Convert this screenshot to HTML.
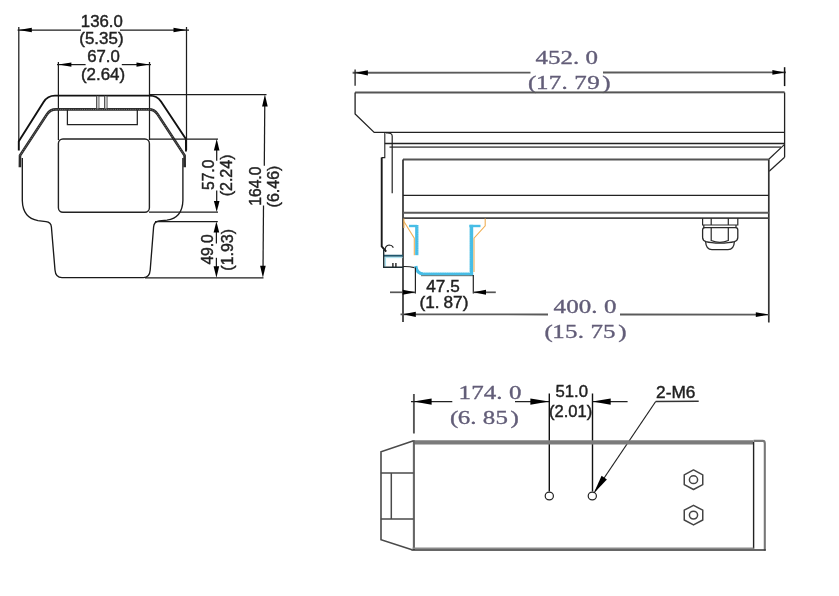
<!DOCTYPE html>
<html><head><meta charset="utf-8"><title>Housing dimensions</title>
<style>
html,body{margin:0;padding:0;background:#fff;}
body{width:839px;height:596px;overflow:hidden;font-family:"Liberation Sans",sans-serif;}
svg{display:block;filter:contrast(1);}
svg text{font-family:"Liberation Sans",sans-serif;}
svg text.sf{font-family:"Liberation Serif",serif;}
</style></head><body>
<svg width="839" height="596" viewBox="0 0 839 596">
<rect x="0" y="0" width="839" height="596" fill="#fff"/>
<line x1="17.6" y1="30" x2="81" y2="30" stroke="#1c1c1c" stroke-width="1.25" />
<line x1="120" y1="30" x2="189" y2="30" stroke="#1c1c1c" stroke-width="1.25" />
<line x1="18.8" y1="27" x2="18.8" y2="142" stroke="#1c1c1c" stroke-width="1.25" />
<line x1="186.5" y1="27" x2="186.5" y2="150" stroke="#1c1c1c" stroke-width="1.25" />
<polygon points="18.80,30.00 31.80,27.80 31.80,32.20" fill="#000"/>
<polygon points="186.50,30.00 173.50,32.20 173.50,27.80" fill="#000"/>
<text transform="translate(101.8,26.6) scale(1.03,1)" font-size="16.3" text-anchor="middle" fill="#222" stroke="#222" stroke-width="0.42">136.0</text>
<text transform="translate(101.4,43.6) scale(1.04,1)" font-size="16.3" text-anchor="middle" fill="#222" stroke="#222" stroke-width="0.42">(5.35)</text>
<line x1="57" y1="64.6" x2="85.6" y2="64.6" stroke="#1c1c1c" stroke-width="1.25" />
<line x1="121.8" y1="64.6" x2="151" y2="64.6" stroke="#1c1c1c" stroke-width="1.25" />
<line x1="58.4" y1="62" x2="58.4" y2="140" stroke="#1c1c1c" stroke-width="1.25" />
<line x1="149.5" y1="62" x2="149.5" y2="140" stroke="#1c1c1c" stroke-width="1.25" />
<polygon points="58.40,64.60 71.40,62.40 71.40,66.80" fill="#000"/>
<polygon points="149.50,64.60 136.50,66.80 136.50,62.40" fill="#000"/>
<text transform="translate(103.5,61.7) scale(1.03,1)" font-size="16.3" text-anchor="middle" fill="#222" stroke="#222" stroke-width="0.42">67.0</text>
<text transform="translate(103,80) scale(1.04,1)" font-size="16.3" text-anchor="middle" fill="#222" stroke="#222" stroke-width="0.42">(2.64)</text>
<path d="M18.8,150.5 L18.8,141.3 L43.6,102 Q47.6,95.6 55,95.6 L149.6,95.6 Q157,95.6 161,101.5 L185.9,139 L186,151.5" stroke="#111" stroke-width="1.9" fill="none" stroke-linejoin="round"/>
<path d="M19.9,167.3 L20,155.5 L47,114.3 Q50.2,109.4 56,109.4 L148.6,109.4 Q154.4,109.4 157.6,114.3 L184.6,155.5 L184.7,167.3" stroke="#2b2b2b" stroke-width="2.6" fill="none" stroke-linejoin="round"/>
<path d="M20,155.5 L47,114.3 Q50.2,109.4 56,109.4 L148.6,109.4 Q154.4,109.4 157.6,114.3 L184.6,155.5" stroke="#9a9a9a" stroke-width="0.7" fill="none" stroke-dasharray="1 1.2"/>
<line x1="96.6" y1="95.6" x2="96.6" y2="109.4" stroke="#444" stroke-width="1.0" />
<line x1="98.9" y1="95.6" x2="98.9" y2="109.4" stroke="#444" stroke-width="1.0" />
<line x1="104.6" y1="95.6" x2="104.6" y2="109.4" stroke="#444" stroke-width="1.0" />
<line x1="107.0" y1="95.6" x2="107.0" y2="109.4" stroke="#444" stroke-width="1.0" />
<line x1="97.75" y1="96.5" x2="97.75" y2="108.5" stroke="#bbb" stroke-width="1.3" />
<line x1="105.8" y1="96.5" x2="105.8" y2="108.5" stroke="#bbb" stroke-width="1.3" />
<path d="M67.4,109.4 L67.4,124.6 L137.3,124.6 L137.3,109.4" stroke="#222" stroke-width="1.25" fill="none" />
<rect x="58.4" y="139" width="91" height="73.2" rx="4.5" ry="4.5" fill="none" stroke="#222" stroke-width="1.4"/>
<path d="M22.3,158 L22.3,200.5 C22.6,211.5 27.5,218.8 38,220.6 L46,221.7 Q51,222.3 51.4,227 L55,270 Q55.6,277.6 62,277.6 L143.5,277.6 Q149.6,277.6 150.2,270 L153.6,227 Q154,221.6 159,221 L167,220.2 C177.6,218.6 182.6,211.5 182.9,200.5 L182.9,158" stroke="#1a1a1a" stroke-width="1.35" fill="none" />
<line x1="150" y1="94.6" x2="266.5" y2="94.6" stroke="#1c1c1c" stroke-width="1.25" />
<line x1="149.5" y1="139" x2="218" y2="139" stroke="#1c1c1c" stroke-width="1.25" />
<line x1="149" y1="212" x2="218" y2="212" stroke="#1c1c1c" stroke-width="1.25" />
<line x1="155" y1="221.6" x2="217.8" y2="221.6" stroke="#1c1c1c" stroke-width="1.25" />
<line x1="145" y1="277.8" x2="263.5" y2="277.8" stroke="#1c1c1c" stroke-width="1.25" />
<line x1="264.8" y1="100" x2="264.3" y2="165.7" stroke="#1c1c1c" stroke-width="1.25" />
<line x1="263.5" y1="205.6" x2="263" y2="272" stroke="#1c1c1c" stroke-width="1.25" />
<polygon points="264.90,94.60 267.70,106.60 262.10,106.60" fill="#000"/>
<polygon points="262.90,277.80 260.10,265.80 265.70,265.80" fill="#000"/>
<text transform="translate(261.2,186.2) rotate(-90) scale(1,1.04)" font-size="15.6" text-anchor="middle" fill="#222" stroke="#222" stroke-width="0.42">164.0</text>
<text transform="translate(278.8,186.5) rotate(-90) scale(1,1.01)" font-size="16" text-anchor="middle" fill="#222" stroke="#222" stroke-width="0.42">(6.46)</text>
<line x1="216.7" y1="145" x2="216.7" y2="160.7" stroke="#1c1c1c" stroke-width="1.25" />
<line x1="216.7" y1="190.6" x2="216.7" y2="206" stroke="#1c1c1c" stroke-width="1.25" />
<polygon points="216.70,139.00 219.50,150.50 213.90,150.50" fill="#000"/>
<polygon points="216.70,212.00 213.90,201.00 219.50,201.00" fill="#000"/>
<text transform="translate(213.6,174.8) rotate(-90) scale(1,1.04)" font-size="15.6" text-anchor="middle" fill="#222" stroke="#222" stroke-width="0.42">57.0</text>
<text transform="translate(231.8,175.4) rotate(-90) scale(1,1.01)" font-size="16" text-anchor="middle" fill="#222" stroke="#222" stroke-width="0.42">(2.24)</text>
<line x1="216.4" y1="227" x2="216.4" y2="243.5" stroke="#1c1c1c" stroke-width="1.25" />
<line x1="216.4" y1="257.8" x2="216.4" y2="272" stroke="#1c1c1c" stroke-width="1.25" />
<polygon points="216.40,221.60 219.20,232.60 213.60,232.60" fill="#000"/>
<polygon points="216.40,277.80 213.60,266.30 219.20,266.30" fill="#000"/>
<text transform="translate(213,249.4) rotate(-90) scale(1,1.04)" font-size="15.6" text-anchor="middle" fill="#222" stroke="#222" stroke-width="0.42">49.0</text>
<text transform="translate(232.6,249.8) rotate(-90) scale(1,1.01)" font-size="16" text-anchor="middle" fill="#222" stroke="#222" stroke-width="0.42">(1.93)</text>
<line x1="352.6" y1="72.8" x2="530.5" y2="72.6" stroke="#5a5a5a" stroke-width="1.9" />
<line x1="603" y1="72.5" x2="786" y2="72.4" stroke="#5a5a5a" stroke-width="1.9" />
<line x1="355.1" y1="69.4" x2="355.1" y2="85.7" stroke="#222" stroke-width="1.3" />
<line x1="784.6" y1="67.2" x2="784.6" y2="86.1" stroke="#111" stroke-width="1.5" />
<polygon points="355.10,72.80 367.90,70.20 367.90,75.40" fill="#000"/>
<polygon points="784.60,72.40 772.40,74.80 772.40,70.00" fill="#000"/>
<text transform="translate(541.75,64.3) scale(1.28,1)" class="sf" font-size="19.5" text-anchor="middle" fill="#625d78" stroke="#625d78" stroke-width="0.35">4</text>
<text transform="translate(554.25,64.3) scale(1.28,1)" class="sf" font-size="19.5" text-anchor="middle" fill="#625d78" stroke="#625d78" stroke-width="0.35">5</text>
<text transform="translate(566.75,64.3) scale(1.28,1)" class="sf" font-size="19.5" text-anchor="middle" fill="#625d78" stroke="#625d78" stroke-width="0.35">2</text>
<text transform="translate(576.12,64.3) scale(1.28,1)" class="sf" font-size="19.5" text-anchor="middle" fill="#625d78" stroke="#625d78" stroke-width="0.35">.</text>
<text transform="translate(591.75,64.3) scale(1.28,1)" class="sf" font-size="19.5" text-anchor="middle" fill="#625d78" stroke="#625d78" stroke-width="0.35">0</text>
<text transform="translate(532.22,89.3) scale(1.28,1)" class="sf" font-size="19.5" text-anchor="middle" fill="#625d78" stroke="#625d78" stroke-width="0.35">(</text>
<text transform="translate(542.20,89.3) scale(1.28,1)" class="sf" font-size="19.5" text-anchor="middle" fill="#625d78" stroke="#625d78" stroke-width="0.35">1</text>
<text transform="translate(555.00,89.3) scale(1.28,1)" class="sf" font-size="19.5" text-anchor="middle" fill="#625d78" stroke="#625d78" stroke-width="0.35">7</text>
<text transform="translate(564.60,89.3) scale(1.28,1)" class="sf" font-size="19.5" text-anchor="middle" fill="#625d78" stroke="#625d78" stroke-width="0.35">.</text>
<text transform="translate(580.60,89.3) scale(1.28,1)" class="sf" font-size="19.5" text-anchor="middle" fill="#625d78" stroke="#625d78" stroke-width="0.35">7</text>
<text transform="translate(593.40,89.3) scale(1.28,1)" class="sf" font-size="19.5" text-anchor="middle" fill="#625d78" stroke="#625d78" stroke-width="0.35">9</text>
<text transform="translate(606.46,89.3) scale(1.28,1)" class="sf" font-size="19.5" text-anchor="middle" fill="#625d78" stroke="#625d78" stroke-width="0.35">)</text>
<line x1="355.1" y1="92.5" x2="784.6" y2="92.3" stroke="#555" stroke-width="2.0" />
<path d="M784.6,92.4 L784.6,157.2 M355.1,92.4 L355.1,113.9 L374.2,132.4 L784.6,132.4" stroke="#222" stroke-width="1.3" fill="none" />
<line x1="384.8" y1="143.5" x2="784.6" y2="143.5" stroke="#222" stroke-width="1.3" />
<line x1="389.5" y1="147.1" x2="781" y2="147.1" stroke="#666" stroke-width="1.8" />
<line x1="768.8" y1="159.3" x2="784.6" y2="144.4" stroke="#222" stroke-width="1.2" />
<line x1="769.2" y1="171.2" x2="784.6" y2="157.2" stroke="#222" stroke-width="1.2" />
<line x1="403" y1="159.6" x2="768.8" y2="159.4" stroke="#555" stroke-width="2.0" />
<path d="M403,322 L403,159.5 M768.8,159.5 L768.8,322.4" stroke="#333" stroke-width="1.7" fill="none" />
<line x1="403" y1="195.3" x2="768.8" y2="195.3" stroke="#222" stroke-width="1.3" />
<line x1="403" y1="212.8" x2="768.8" y2="212.8" stroke="#5a5a5a" stroke-width="1.9" />
<line x1="403" y1="218.2" x2="768.8" y2="218.2" stroke="#444" stroke-width="1.8" />
<path d="M384.8,132.4 L384.8,157.6 L381.6,157.6" stroke="#222" stroke-width="1.1" fill="none" />
<path d="M386,132.9 Q392.2,132.4 392.2,136 L392.2,193.2" stroke="#222" stroke-width="1.2" fill="none" />
<path d="M381.7,157.6 L381.7,246.4 L386.2,251.7" stroke="#1a1a1a" stroke-width="1.9" fill="none" />
<path d="M385,251 Q385,245.2 389.2,245 Q392,245 393.4,247.6" stroke="#222" stroke-width="1.2" fill="none" />
<line x1="384.6" y1="257.4" x2="402.5" y2="257.4" stroke="#b4e6f2" stroke-width="1.5" />
<line x1="385.3" y1="257" x2="385.3" y2="266.3" stroke="#a5e0ee" stroke-width="1.5" />
<line x1="383" y1="255.7" x2="403" y2="255.7" stroke="#1e566c" stroke-width="1.9" />
<path d="M383.7,249.5 L383.7,267.3 L403,267.3" stroke="#1d2d33" stroke-width="1.4" fill="none" />
<line x1="392.9" y1="262.9" x2="392.9" y2="267.3" stroke="#222" stroke-width="1.4" />
<line x1="395.9" y1="262.9" x2="395.9" y2="267.3" stroke="#222" stroke-width="1.4" />
<path d="M403,266.6 Q409,266.4 414.5,267.6" stroke="#222" stroke-width="1.1" fill="none" />
<path d="M403.9,218.6 L403.9,228" stroke="#f0b056" stroke-width="1.1" fill="none" />
<path d="M403.9,221.5 L414.3,238.2 L414.3,255.2" stroke="#f0b056" stroke-width="1.1" fill="none" />
<path d="M409,226 L417,226" stroke="#47bde6" stroke-width="2.4" fill="none" />
<path d="M416.8,225 L416.8,255.2" stroke="#47bde6" stroke-width="3.3" fill="none" />
<path d="M415.8,266 Q416.5,274 424,274 L471.4,274" stroke="#47bde6" stroke-width="3.2" fill="none" />
<path d="M471.4,224.8 L471.4,275.7" stroke="#47bde6" stroke-width="3.6" fill="none" />
<path d="M469.4,226 L480.5,226" stroke="#47bde6" stroke-width="2.4" fill="none" />
<path d="M421,275.7 L473.5,275.7" stroke="#566" stroke-width="0.9" fill="none" />
<path d="M418.3,226 L418.3,255" stroke="#bfe9f6" stroke-width="0.8" fill="none" stroke-dasharray="1 1.3"/>
<path d="M423,272.4 L470,272.4" stroke="#bfe9f6" stroke-width="0.8" fill="none" stroke-dasharray="1 1.3"/>
<path d="M469.6,228 L469.6,272" stroke="#bfe9f6" stroke-width="0.8" fill="none" stroke-dasharray="1 1.3"/>
<path d="M485.2,218.6 L485.2,225.9 L474,238.2 L474,272" stroke="#f0b056" stroke-width="1.1" fill="none" />
<line x1="415.4" y1="267.5" x2="415.4" y2="293.5" stroke="#222" stroke-width="1.2" />
<line x1="473.3" y1="275" x2="473.3" y2="293.5" stroke="#222" stroke-width="1.2" />
<line x1="390" y1="292.3" x2="415.4" y2="292.3" stroke="#555" stroke-width="1.7" />
<line x1="473.3" y1="292.3" x2="495.8" y2="292.3" stroke="#555" stroke-width="1.7" />
<polygon points="415.40,292.30 402.70,294.80 402.70,289.80" fill="#000"/>
<polygon points="473.30,292.30 486.00,289.80 486.00,294.80" fill="#000"/>
<text transform="translate(443,291.5) scale(1.1,1)" font-size="15.6" text-anchor="middle" fill="#222" stroke="#222" stroke-width="0.42">47.5</text>
<text transform="translate(419.4,308) scale(1.09,1)" font-size="15.8" fill="#222" stroke="#222" stroke-width="0.42">(1.</text>
<text transform="translate(468.4,308) scale(1.09,1)" font-size="15.8" fill="#222" stroke="#222" stroke-width="0.42" text-anchor="end">87)</text>
<line x1="400.5" y1="314.4" x2="548" y2="314.5" stroke="#5a5a5a" stroke-width="1.8" />
<line x1="620" y1="314.5" x2="768.8" y2="314.6" stroke="#5a5a5a" stroke-width="1.8" />
<polygon points="403.00,314.30 415.80,311.70 415.80,316.90" fill="#000"/>
<polygon points="768.80,314.60 755.80,317.00 755.80,312.20" fill="#000"/>
<text transform="translate(559.80,313.4) scale(1.28,1)" class="sf" font-size="19.5" text-anchor="middle" fill="#625d78" stroke="#625d78" stroke-width="0.35">4</text>
<text transform="translate(572.40,313.4) scale(1.28,1)" class="sf" font-size="19.5" text-anchor="middle" fill="#625d78" stroke="#625d78" stroke-width="0.35">0</text>
<text transform="translate(585.00,313.4) scale(1.28,1)" class="sf" font-size="19.5" text-anchor="middle" fill="#625d78" stroke="#625d78" stroke-width="0.35">0</text>
<text transform="translate(594.45,313.4) scale(1.28,1)" class="sf" font-size="19.5" text-anchor="middle" fill="#625d78" stroke="#625d78" stroke-width="0.35">.</text>
<text transform="translate(610.20,313.4) scale(1.28,1)" class="sf" font-size="19.5" text-anchor="middle" fill="#625d78" stroke="#625d78" stroke-width="0.35">0</text>
<text transform="translate(548.64,338.4) scale(1.28,1)" class="sf" font-size="19.5" text-anchor="middle" fill="#625d78" stroke="#625d78" stroke-width="0.35">(</text>
<text transform="translate(558.55,338.4) scale(1.28,1)" class="sf" font-size="19.5" text-anchor="middle" fill="#625d78" stroke="#625d78" stroke-width="0.35">1</text>
<text transform="translate(571.25,338.4) scale(1.28,1)" class="sf" font-size="19.5" text-anchor="middle" fill="#625d78" stroke="#625d78" stroke-width="0.35">5</text>
<text transform="translate(580.78,338.4) scale(1.28,1)" class="sf" font-size="19.5" text-anchor="middle" fill="#625d78" stroke="#625d78" stroke-width="0.35">.</text>
<text transform="translate(596.65,338.4) scale(1.28,1)" class="sf" font-size="19.5" text-anchor="middle" fill="#625d78" stroke="#625d78" stroke-width="0.35">7</text>
<text transform="translate(609.35,338.4) scale(1.28,1)" class="sf" font-size="19.5" text-anchor="middle" fill="#625d78" stroke="#625d78" stroke-width="0.35">5</text>
<text transform="translate(622.30,338.4) scale(1.28,1)" class="sf" font-size="19.5" text-anchor="middle" fill="#625d78" stroke="#625d78" stroke-width="0.35">)</text>
<path d="M702.6,218.2 L702.6,225 L737.8,225 L737.8,218.2 M711.2,218.2 L711.2,225 M728.3,218.2 L728.3,225" stroke="#2a2a2a" stroke-width="1.2" fill="none" />
<path d="M703.8,225 L703.8,227.7 L736,227.7 L736,225" stroke="#2a2a2a" stroke-width="1.2" fill="none" />
<path d="M704.6,227.7 Q702.6,227.7 702.6,230 L702.6,237.5 Q702.6,240.5 706,241.6 Q711,243 720,243.2 Q729,243 734.4,241.6 Q737.8,240.5 737.8,237.5 L737.8,230 Q737.8,227.7 735.8,227.7" stroke="#2a2a2a" stroke-width="1.3" fill="none" />
<path d="M711.2,227.7 L711.2,240.5 Q720,244.2 728.3,240.5 L728.3,227.7" stroke="#2a2a2a" stroke-width="1.2" fill="none" />
<path d="M705.6,241.5 Q706,249.6 712,249.6 L728,249.6 Q734,249.6 734.4,241.5" stroke="#2a2a2a" stroke-width="1.3" fill="none" />
<line x1="413.9" y1="394" x2="413.9" y2="433.5" stroke="#555" stroke-width="1.9" />
<line x1="411" y1="401.6" x2="452.3" y2="401.6" stroke="#222" stroke-width="1.2" />
<polygon points="413.60,401.60 431.60,398.40 431.60,404.80" fill="#000"/>
<line x1="515" y1="401.6" x2="549" y2="401.6" stroke="#222" stroke-width="1.2" />
<polygon points="549.00,401.60 530.40,404.80 530.40,398.40" fill="#000"/>
<text transform="translate(464.80,398.5) scale(1.28,1)" class="sf" font-size="19.5" text-anchor="middle" fill="#625d78" stroke="#625d78" stroke-width="0.35">1</text>
<text transform="translate(477.40,398.5) scale(1.28,1)" class="sf" font-size="19.5" text-anchor="middle" fill="#625d78" stroke="#625d78" stroke-width="0.35">7</text>
<text transform="translate(490.00,398.5) scale(1.28,1)" class="sf" font-size="19.5" text-anchor="middle" fill="#625d78" stroke="#625d78" stroke-width="0.35">4</text>
<text transform="translate(499.45,398.5) scale(1.28,1)" class="sf" font-size="19.5" text-anchor="middle" fill="#625d78" stroke="#625d78" stroke-width="0.35">.</text>
<text transform="translate(515.20,398.5) scale(1.28,1)" class="sf" font-size="19.5" text-anchor="middle" fill="#625d78" stroke="#625d78" stroke-width="0.35">0</text>
<text transform="translate(454.07,424) scale(1.28,1)" class="sf" font-size="19.5" text-anchor="middle" fill="#625d78" stroke="#625d78" stroke-width="0.35">(</text>
<text transform="translate(463.90,424) scale(1.28,1)" class="sf" font-size="19.5" text-anchor="middle" fill="#625d78" stroke="#625d78" stroke-width="0.35">6</text>
<text transform="translate(473.35,424) scale(1.28,1)" class="sf" font-size="19.5" text-anchor="middle" fill="#625d78" stroke="#625d78" stroke-width="0.35">.</text>
<text transform="translate(489.10,424) scale(1.28,1)" class="sf" font-size="19.5" text-anchor="middle" fill="#625d78" stroke="#625d78" stroke-width="0.35">8</text>
<text transform="translate(501.70,424) scale(1.28,1)" class="sf" font-size="19.5" text-anchor="middle" fill="#625d78" stroke="#625d78" stroke-width="0.35">5</text>
<text transform="translate(514.55,424) scale(1.28,1)" class="sf" font-size="19.5" text-anchor="middle" fill="#625d78" stroke="#625d78" stroke-width="0.35">)</text>
<line x1="549.3" y1="393.5" x2="549.3" y2="491.5" stroke="#111" stroke-width="1.4" />
<line x1="592.5" y1="393.5" x2="592.5" y2="491.5" stroke="#111" stroke-width="1.4" />
<line x1="592.3" y1="401.6" x2="627.6" y2="401.6" stroke="#222" stroke-width="1.2" />
<polygon points="592.30,401.60 610.70,398.40 610.70,404.80" fill="#000"/>
<text transform="translate(571.8,397) scale(1.02,1)" font-size="16.4" text-anchor="middle" fill="#222" stroke="#222" stroke-width="0.42">51.0</text>
<text transform="translate(570.6,416.8) scale(1.01,1)" font-size="16.4" text-anchor="middle" fill="#222" stroke="#222" stroke-width="0.42">(2.01)</text>
<ellipse cx="549.3" cy="496" rx="4.1" ry="3.9" fill="#fff" stroke="#222" stroke-width="1.2"/>
<ellipse cx="592.3" cy="496" rx="4.1" ry="3.9" fill="#fff" stroke="#222" stroke-width="1.2"/>
<line x1="655.7" y1="401.5" x2="698.7" y2="401.3" stroke="#333" stroke-width="1.5" />
<line x1="655.7" y1="401.5" x2="595" y2="491.5" stroke="#222" stroke-width="1.2" />
<polygon points="593.60,493.40 601.59,475.87 606.89,479.45" fill="#000"/>
<text transform="translate(675.7,397.5) scale(1.02,1)" font-size="16.9" text-anchor="middle" fill="#222" stroke="#222" stroke-width="0.42">2-M6</text>
<line x1="413.6" y1="442.4" x2="753.6" y2="442.4" stroke="#7b7b7b" stroke-width="4.4" />
<line x1="413.9" y1="440.3" x2="413.9" y2="550" stroke="#666" stroke-width="2.1" />
<line x1="753.6" y1="442" x2="753.6" y2="548.8" stroke="#222" stroke-width="1.4" />
<path d="M753.6,440.9 L762.6,440.9 Q764.8,440.9 764.8,443.2 L764.8,550.6" stroke="#777" stroke-width="2.1" fill="none" />
<line x1="412.5" y1="548.2" x2="753.6" y2="548.2" stroke="#8a8a8a" stroke-width="1.4" />
<line x1="411.5" y1="550.1" x2="765.8" y2="550.1" stroke="#333" stroke-width="1.5" />
<path d="M413.6,440.8 L381,451.8 L381,539.7 L412,549.8" stroke="#4a4a4a" stroke-width="1.6" fill="none" />
<line x1="380.9" y1="473" x2="413.6" y2="473" stroke="#4a4a4a" stroke-width="1.6" />
<line x1="380.9" y1="519" x2="413.6" y2="519" stroke="#4a4a4a" stroke-width="1.6" />
<line x1="391.3" y1="473" x2="391.3" y2="519" stroke="#4a4a4a" stroke-width="1.5" />
<polygon points="693.50,469.90 684.25,474.80 684.25,484.60 693.50,489.50 702.75,484.60 702.75,474.80" fill="none" stroke="#444" stroke-width="1.5" stroke-linejoin="round"/>
<ellipse cx="693.5" cy="479.7" rx="4.1" ry="3.9" fill="none" stroke="#444" stroke-width="1.5"/>
<polygon points="693.50,505.30 684.25,510.20 684.25,520.00 693.50,524.90 702.75,520.00 702.75,510.20" fill="none" stroke="#444" stroke-width="1.5" stroke-linejoin="round"/>
<ellipse cx="693.5" cy="515.1" rx="4.1" ry="3.9" fill="none" stroke="#444" stroke-width="1.5"/>
</svg>
</body></html>
